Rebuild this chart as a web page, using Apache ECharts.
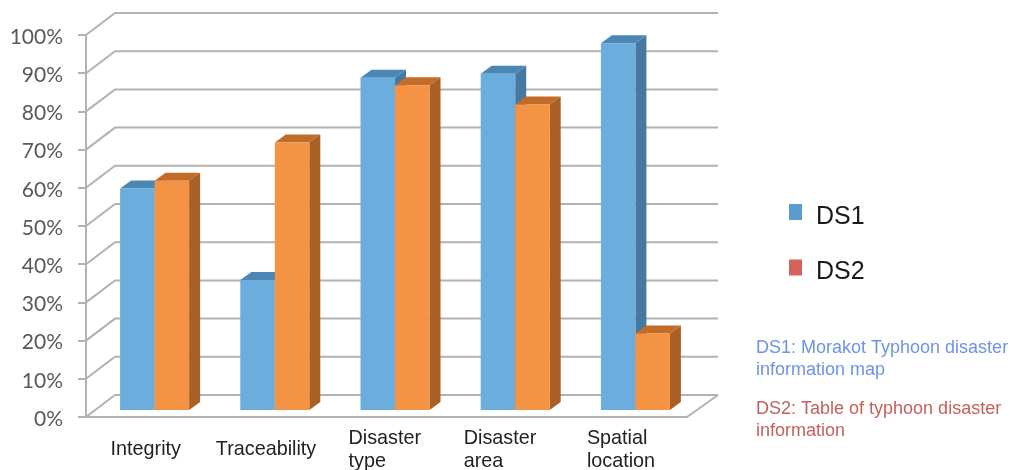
<!DOCTYPE html>
<html>
<head>
<meta charset="utf-8">
<style>html,body{margin:0;padding:0;background:#fff}#chart{width:1010px;height:470px}</style>
<script src="https://cdn.jsdelivr.net/npm/echarts@6/dist/echarts.min.js"></script>
</head>
<body>
<div id="chart"></div>
<script>
// Chart values
const categories = ['Integrity', 'Traceability', 'Disaster\ntype', 'Disaster\narea', 'Spatial\nlocation'];
const ds1Values = [58, 34, 87, 88, 96];
const ds2Values = [60, 70, 85, 80, 20];
const percentTicks = [0, 10, 20, 30, 40, 50, 60, 70, 80, 90, 100];
const note1 = 'DS1: Morakot Typhoon disaster\ninformation map';
const note2 = 'DS2: Table of typhoon disaster\ninformation';

// Pseudo-3D projection constants
const WALL_DX = 29, WALL_DY = -22;      // front plane to back wall
const BAR_DX = 8.5, BAR_DY = -7;        // front plane to bar face
const SIDE_DX = 11, SIDE_DY = -8;       // bar depth
const BAR_W = 34.5;
const GRID_COLOR = '#b2b2b2';

const labelBlockWidths = [71, 101, 76, 86, 80];

function renderWall(params, api) {
  const cs = params.coordSys;
  const y = api.coord([0, api.value(1)])[1];
  const left = cs.x, right = cs.x + cs.width;
  const children = [{
    type: 'polyline',
    shape: { points: [[left, y], [left + WALL_DX, y + WALL_DY], [right + WALL_DX + 2, y + WALL_DY]] },
    style: { stroke: GRID_COLOR, lineWidth: 2, fill: 'none' }
  }];
  if (api.value(1) === 0) {
    children.push({
      type: 'line',
      shape: { x1: right, y1: y, x2: right + WALL_DX + 2, y2: y + WALL_DY },
      style: { stroke: GRID_COLOR, lineWidth: 2 }
    });
  }
  return { type: 'group', children };
}

function barRenderer(slot, colors) {
  return function (params, api) {
    const idx = api.value(0), v = api.value(1);
    const top = api.coord([idx, v]);
    const base = api.coord([idx, 0]);
    const x0 = base[0] + BAR_DX + (slot === 0 ? -BAR_W : 0);
    const x1 = x0 + BAR_W;
    const yt = top[1] + BAR_DY, yb = base[1] + BAR_DY;
    return {
      type: 'group',
      children: [
        { type: 'polygon', shape: { points: [[x1, yt], [x1 + SIDE_DX, yt + SIDE_DY], [x1 + SIDE_DX, yb + SIDE_DY], [x1, yb]] }, style: { fill: colors.side } },
        { type: 'polygon', shape: { points: [[x0, yt], [x0 + SIDE_DX, yt + SIDE_DY], [x1 + SIDE_DX, yt + SIDE_DY], [x1, yt]] }, style: { fill: colors.top } },
        { type: 'rect', shape: { x: x0, y: yt, width: BAR_W, height: yb - yt }, style: { fill: colors.front } }
      ]
    };
  };
}

const blue = { front: '#6baddd', side: '#45799f', top: '#4a87b5' };
const orange = { front: '#f49343', side: '#aa5f25', top: '#c36c27' };

const richLabels = {};
labelBlockWidths.forEach((w, i) => {
  richLabels['c' + i] = { width: w, align: 'left', fontFamily: 'Liberation Sans', fontSize: 19.8, lineHeight: 23, color: '#222' };
});

const chart = echarts.init(document.getElementById('chart'), null, { renderer: 'canvas' });
chart.setOption({
  animation: false,
  backgroundColor: '#fff',
  grid: { left: 86, right: 323, top: 35, bottom: 53, outerBoundsMode: 'none' },
  xAxis: {
    type: 'category',
    data: categories,
    axisLine: { lineStyle: { color: GRID_COLOR, width: 2 } },
    axisTick: { length: 7, lineStyle: { color: GRID_COLOR, width: 2 } },
    axisLabel: {
      interval: 0,
      margin: 33,
      verticalAlign: 'middle',
      formatter: (value, i) => value.split('\n').map(s => '{c' + i + '|' + s + '}').join('\n'),
      rich: richLabels
    }
  },
  yAxis: {
    type: 'value',
    min: 0,
    max: 100,
    interval: 10,
    splitLine: { show: false },
    axisLine: { show: true, lineStyle: { color: GRID_COLOR, width: 2 } },
    axisTick: { show: true, length: 8, lineStyle: { color: GRID_COLOR, width: 2 } },
    axisLabel: {
      formatter: '{v|{value}%}',
      margin: 23,
      rich: { v: { fontFamily: 'Lato', fontSize: 21, color: '#595959', padding: [4, 0, 0, 0] } }
    }
  },
  legend: {
    data: [
      { name: 'DS1', itemStyle: { color: '#5a9bd0' } },
      { name: 'DS2', itemStyle: { color: '#d2625a' } }
    ],
    orient: 'vertical',
    left: 784,
    top: 199,
    icon: 'rect',
    itemWidth: 13,
    itemHeight: 16,
    itemGap: 30,
    formatter: '{t|{name}}',
    textStyle: {
      rich: { t: { fontFamily: 'Liberation Sans', fontSize: 25, color: '#1a1a1a', padding: [10, 0, 0, 9] } }
    }
  },
  graphic: [
    { type: 'text', left: 756, top: 337, style: { text: note1, fontFamily: 'Liberation Sans', fontSize: 18, lineHeight: 22, fill: '#6c93e6' } },
    { type: 'text', left: 756, top: 398, style: { text: note2, fontFamily: 'Liberation Sans', fontSize: 18, lineHeight: 22, fill: '#c4615c' } }
  ],
  series: [
    {
      type: 'custom',
      name: 'wall',
      silent: true,
      z: 1,
      renderItem: renderWall,
      encode: { x: 0, y: 1 },
      data: percentTicks.map(t => [0, t])
    },
    {
      type: 'custom',
      name: 'DS1',
      z: 2,
      itemStyle: { color: blue.front },
      renderItem: barRenderer(0, blue),
      encode: { x: 0, y: 1 },
      data: ds1Values.map((v, i) => [i, v])
    },
    {
      type: 'custom',
      name: 'DS2',
      z: 3,
      itemStyle: { color: orange.front },
      renderItem: barRenderer(1, orange),
      encode: { x: 0, y: 1 },
      data: ds2Values.map((v, i) => [i, v])
    }
  ]
});
</script>
</body>
</html>
